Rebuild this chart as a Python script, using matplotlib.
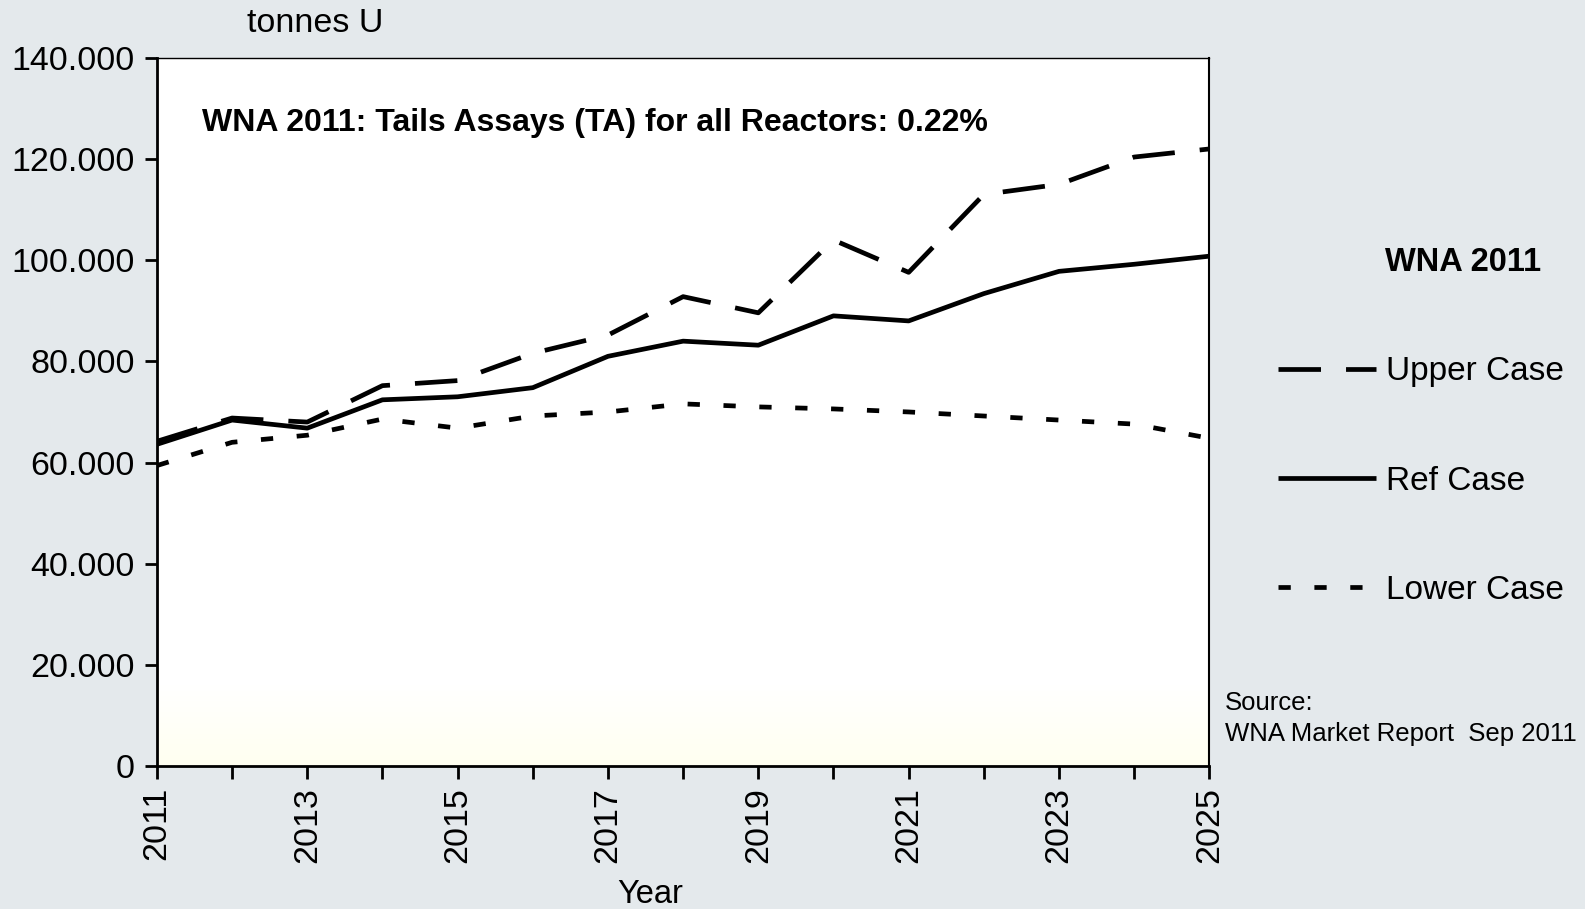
#!/usr/bin/env python3

import matplotlib.pyplot as plt
from matplotlib.colors import LinearSegmentedColormap
from matplotlib.ticker import FuncFormatter
import numpy as np

years = list(range(2011, 2026))
upper_case = [64200, 68800, 68000, 75200, 76200, 81600, 85200, 92800,
              89600, 104000, 97600, 113000, 115000, 120400, 122000]
ref_case = [63600, 68400, 66800, 72400, 73000, 74800, 81000, 84000,
            83200, 89000, 88000, 93400, 97800, 99200, 100800]
lower_case = [59400, 64000, 65400, 68600, 66800, 69200, 70000, 71600,
              71000, 70600, 70000, 69200, 68400, 67600, 64800]

bg = '#e4e9ec'
plt.rcParams['font.family'] = ['Liberation Sans', 'DejaVu Sans']

fig = plt.figure(figsize=(15.85, 9.09), dpi=100, facecolor=bg)
ax = fig.add_axes([0.099, 0.1573, 0.664, 0.779])

# faint yellow shading at the bottom of the plot area
grad = np.linspace(0, 1, 256).reshape(-1, 1)
ax.imshow(grad, extent=[2011, 2025, 0, 16000], aspect='auto', origin='lower',
          cmap=LinearSegmentedColormap.from_list('y', ['#fffff0', '#ffffff']),
          zorder=0)

ax.plot(years, upper_case, color='black', lw=3.4, dashes=(9, 5.3),
        label='Upper Case', zorder=3)
ax.plot(years, ref_case, color='black', lw=3.4, solid_capstyle='butt',
        label='Ref Case', zorder=3)
ax.plot(years, lower_case, color='black', lw=3.4, dashes=(2.6, 5),
        label='Lower Case', zorder=3)

ax.set_xlim(2011, 2025)
ax.set_ylim(0, 140000)
ax.set_xticks(years)
ax.set_xticklabels([str(y) if (y - 2011) % 2 == 0 else '' for y in years],
                   rotation=90)
ax.set_yticks(range(0, 140001, 20000))
ax.yaxis.set_major_formatter(FuncFormatter(
    lambda v, p: '{:,.0f}'.format(v).replace(',', '.')))
ax.tick_params(labelsize=24.5, length=9, width=2, colors='black')
ax.tick_params(axis='x', pad=6)
ax.tick_params(axis='y', pad=7)

for s in ['left', 'bottom']:
    ax.spines[s].set_linewidth(2)
ax.spines['right'].set_linewidth(1.5)
ax.spines['top'].set_linewidth(1)

ax.text(0.043, 0.908, 'WNA 2011: Tails Assays (TA) for all Reactors: 0.22%',
        transform=ax.transAxes, fontsize=23, fontweight='bold', va='center')

fig.text(0.199, 0.974, 'tonnes U', fontsize=24.5, ha='center', va='center')
fig.text(0.41, 0.016, 'Year', fontsize=23.5, ha='center', va='center')

fig.text(0.874, 0.711, 'WNA 2011', fontsize=23.5, fontweight='bold',
         va='center')
leg = fig.legend(loc='upper left', bbox_to_anchor=(0.806, 0.608),
                 frameon=False, fontsize=24, handlelength=2.94,
                 handletextpad=0.3, labelspacing=2.35, borderpad=0,
                 borderaxespad=0)

fig.text(0.773, 0.227, 'Source:', fontsize=18.5, va='center')
fig.text(0.773, 0.192, 'WNA Market Report  Sep 2011', fontsize=18.5,
         va='center')

plt.savefig('out.png', dpi=100, facecolor=bg)
plt.close()
